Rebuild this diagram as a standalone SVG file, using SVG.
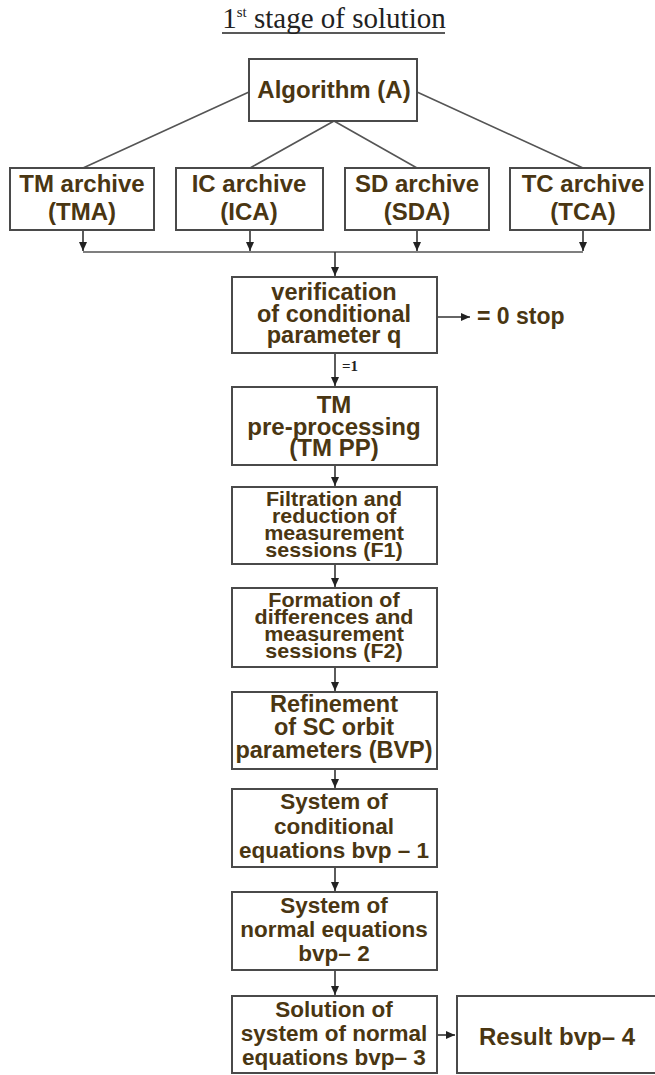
<svg xmlns="http://www.w3.org/2000/svg" width="655" height="1075" viewBox="0 0 655 1075">
<style>
.box{fill:#fff;stroke:#4a4a4a;stroke-width:2}
.t{font-family:"Liberation Sans",Arial,sans-serif;font-weight:bold;fill:#4a3612;text-anchor:middle}
.ln{stroke:#555;stroke-width:1.6;fill:none}
.ar{stroke:#333;stroke-width:1.6;fill:none;marker-end:url(#ah)}
</style>
<defs>
<marker id="ah" markerWidth="10" markerHeight="10" refX="9" refY="5" orient="auto" markerUnits="userSpaceOnUse">
<path d="M0,1 L9,5 L0,9 z" fill="#222"/>
</marker>
</defs>
<rect width="655" height="1075" fill="#fff"/>
<g id="title">
<text x="334" y="28" font-family="'Liberation Serif','Times New Roman',serif" font-size="29" fill="#222" text-anchor="middle">1<tspan font-size="15" dy="-11">st</tspan><tspan dy="11"> stage of solution</tspan></text>
<line x1="222" y1="33" x2="445" y2="33" stroke="#222" stroke-width="1.3"/>
</g>
<g id="connectors">
<path class="ln" d="M249,92 L83,168 M417,92 L583,168 M334,121 L250,168 M334,121 L417,168"/>
<path class="ar" d="M83,230 V251"/>
<path class="ar" d="M250,230 V251"/>
<path class="ar" d="M417,230 V251"/>
<path class="ar" d="M583,230 V251"/>
<path class="ln" d="M83,252 H583"/>
<path class="ar" d="M335,252 V276"/>
<path class="ar" d="M437,317 H470"/>
<path class="ar" d="M335,353 V386"/>
<path class="ar" d="M335,465 V486"/>
<path class="ar" d="M335,564 V587"/>
<path class="ar" d="M335,667 V691"/>
<path class="ar" d="M335,769 V788"/>
<path class="ar" d="M335,867 V891"/>
<path class="ar" d="M335,970 V995"/>
<path class="ar" d="M437,1035 H455"/>
<text x="342" y="371" font-family="'Liberation Serif','Times New Roman',serif" font-weight="bold" font-size="15" fill="#222">=1</text>
<text x="477" y="324" font-family="'Liberation Sans',Arial,sans-serif" font-weight="bold" font-size="23" fill="#4a3612">= 0 stop</text>
</g>
<g id="algorithm">
<rect class="box" x="249" y="59" width="168" height="62"/>
<text class="t" x="334" y="98" font-size="24">Algorithm (A)</text>
</g>
<g id="tma">
<rect class="box" x="10" y="168" width="144" height="62"/>
<text class="t" x="82" y="192" font-size="24">TM archive</text>
<text class="t" x="82" y="220" font-size="24">(TMA)</text>
</g>
<g id="ica">
<rect class="box" x="176" y="168" width="147" height="62"/>
<text class="t" x="249" y="192" font-size="24">IC archive</text>
<text class="t" x="249" y="220" font-size="24">(ICA)</text>
</g>
<g id="sda">
<rect class="box" x="345" y="168" width="144" height="62"/>
<text class="t" x="417" y="192" font-size="24">SD archive</text>
<text class="t" x="417" y="220" font-size="24">(SDA)</text>
</g>
<g id="tca">
<rect class="box" x="510" y="168" width="140" height="62"/>
<text class="t" x="583" y="192" font-size="24">TC archive</text>
<text class="t" x="583" y="220" font-size="24">(TCA)</text>
</g>
<g id="verification">
<rect class="box" x="232" y="277" width="205" height="76"/>
<text class="t" x="334" y="300" font-size="23.5">verification</text>
<text class="t" x="334" y="322" font-size="23.5">of conditional</text>
<text class="t" x="334" y="343" font-size="23.5">parameter q</text>
</g>
<g id="tmpp">
<rect class="box" x="232" y="387" width="205" height="78"/>
<text class="t" x="334" y="413" font-size="24">TM</text>
<text class="t" x="334" y="435" font-size="24">pre-processing</text>
<text class="t" x="334" y="456" font-size="24">(TM PP)</text>
</g>
<g id="f1">
<rect class="box" x="232" y="487" width="205" height="77"/>
<text class="t" transform="translate(334,506) scale(1,0.9)" font-size="21.5">Filtration and</text>
<text class="t" transform="translate(334,523) scale(1,0.9)" font-size="21.5">reduction of</text>
<text class="t" transform="translate(334,540) scale(1,0.9)" font-size="21.5">measurement</text>
<text class="t" transform="translate(334,557) scale(1,0.9)" font-size="21.5">sessions (F1)</text>
</g>
<g id="f2">
<rect class="box" x="232" y="588" width="205" height="79"/>
<text class="t" transform="translate(334,607) scale(1,0.9)" font-size="21.5">Formation of</text>
<text class="t" transform="translate(334,624) scale(1,0.9)" font-size="21.5">differences and</text>
<text class="t" transform="translate(334,641) scale(1,0.9)" font-size="21.5">measurement</text>
<text class="t" transform="translate(334,658) scale(1,0.9)" font-size="21.5">sessions (F2)</text>
</g>
<g id="bvp">
<rect class="box" x="232" y="692" width="205" height="77"/>
<text class="t" x="334" y="712" font-size="23.5">Refinement</text>
<text class="t" x="334" y="735" font-size="23.5">of SC orbit</text>
<text class="t" x="334" y="758" font-size="23.5">parameters (BVP)</text>
</g>
<g id="bvp1">
<rect class="box" x="232" y="789" width="205" height="78"/>
<text class="t" x="334" y="809" font-size="22.5">System of</text>
<text class="t" x="334" y="834" font-size="22.5">conditional</text>
<text class="t" x="334" y="858" font-size="22.5">equations bvp – 1</text>
</g>
<g id="bvp2">
<rect class="box" x="232" y="892" width="205" height="78"/>
<text class="t" x="334" y="913" font-size="22.5">System of</text>
<text class="t" x="334" y="937" font-size="22.5">normal equations</text>
<text class="t" x="334" y="961" font-size="22.5">bvp– 2</text>
</g>
<g id="bvp3">
<rect class="box" x="232" y="996" width="205" height="77"/>
<text class="t" x="334" y="1017" font-size="22.5">Solution of</text>
<text class="t" x="334" y="1041" font-size="22.5">system of normal</text>
<text class="t" x="334" y="1065" font-size="22.5">equations bvp– 3</text>
</g>
<g id="bvp4">
<rect class="box" x="457" y="996" width="200" height="77"/>
<text class="t" x="557" y="1045" font-size="24">Result bvp– 4</text>
</g>
</svg>
